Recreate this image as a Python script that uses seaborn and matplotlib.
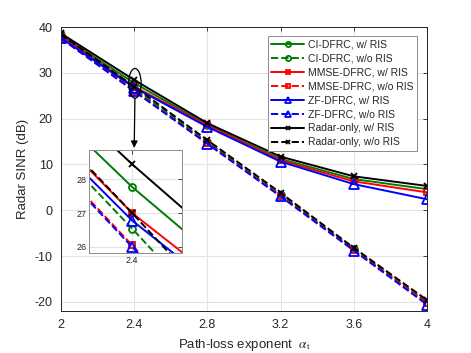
import matplotlib
matplotlib.use('Agg')
import matplotlib.pyplot as plt
from matplotlib.patches import Ellipse
import seaborn as sns
import pandas as pd

# data
alpha = [2.0, 2.4, 2.8, 3.2, 3.6, 4.0]
ci_w = [38.2, 27.77, 18.6, 11.2, 6.8, 4.6]
ci_wo = [37.9, 26.54, 14.9, 3.4, -8.5, -20.0]
mmse_w = [38.0, 27.0, 18.5, 10.9, 6.3, 3.9]
mmse_wo = [37.6, 26.05, 14.6, 3.2, -8.7, -20.2]
zf_w = [37.6, 26.78, 18.2, 10.6, 5.7, 2.4]
zf_wo = [37.5, 26.0, 14.5, 3.0, -8.8, -20.6]
radar_w = [38.6, 28.44, 19.0, 11.7, 7.4, 5.3]
radar_wo = [38.4, 27.0, 15.3, 3.8, -8.2, -19.6]

labels = ['CI-DFRC, w/ RIS', 'CI-DFRC, w/o RIS',
          'MMSE-DFRC, w/ RIS', 'MMSE-DFRC, w/o RIS',
          'ZF-DFRC, w/ RIS', 'ZF-DFRC, w/o RIS',
          'Radar-only, w/ RIS', 'Radar-only, w/o RIS']
series = [ci_w, ci_wo, mmse_w, mmse_wo, zf_w, zf_wo, radar_w, radar_wo]

rows = []
for lab, vals in zip(labels, series):
    for a, v in zip(alpha, vals):
        rows.append({'alpha': a, 'sinr': v, 'scheme': lab})
df = pd.DataFrame(rows)

green = '#007a00'
styles = {
    'CI-DFRC, w/ RIS': dict(color=green, marker='o', ms=5, dashed=False),
    'CI-DFRC, w/o RIS': dict(color=green, marker='o', ms=5, dashed=True),
    'MMSE-DFRC, w/ RIS': dict(color='red', marker='s', ms=4.5, dashed=False),
    'MMSE-DFRC, w/o RIS': dict(color='red', marker='s', ms=4.5, dashed=True),
    'ZF-DFRC, w/ RIS': dict(color='blue', marker='^', ms=6.5, dashed=False),
    'ZF-DFRC, w/o RIS': dict(color='blue', marker='^', ms=6.5, dashed=True),
    'Radar-only, w/ RIS': dict(color='black', marker='x', ms=4.5, dashed=False),
    'Radar-only, w/o RIS': dict(color='black', marker='x', ms=4.5, dashed=True),
}

sns.set_style('whitegrid')
plt.rcParams['font.family'] = ['Liberation Sans', 'DejaVu Sans']
plt.rcParams['mathtext.fontset'] = 'stix'
plt.rcParams['axes.unicode_minus'] = False

fig = plt.figure(figsize=(4.71, 3.53), dpi=100)
ax = fig.add_axes([0.1295, 0.119, 0.777, 0.8045])
axin = fig.add_axes([0.189, 0.283, 0.197, 0.292])


def draw(a, lw):
    for lab in labels:
        st = styles[lab]
        sub = df[df['scheme'] == lab]
        sns.lineplot(data=sub, x='alpha', y='sinr', ax=a, color=st['color'],
                     marker=st['marker'], markersize=st['ms'],
                     markerfacecolor='none', markeredgecolor=st['color'],
                     markeredgewidth=1.3, linewidth=lw, label=lab,
                     linestyle='--' if st['dashed'] else '-',
                     dashes=(3, 2.2) if st['dashed'] else '', legend=False)


draw(ax, 1.4)
draw(axin, 1.4)

gray = '#262626'
for a in (ax, axin):
    a.grid(True, color='#e3e3e3', linewidth=0.8)
    for s in a.spines.values():
        s.set_color(gray)
        s.set_linewidth(0.7)
    a.tick_params(direction='in', top=True, right=True, colors=gray,
                  length=3, width=0.6)
    a.set_xlabel('')
    a.set_ylabel('')

ax.set_xlim(2, 4)
ax.set_ylim(-22, 40)
ax.set_xticks([2, 2.4, 2.8, 3.2, 3.6, 4])
ax.set_xticklabels(['2', '2.4', '2.8', '3.2', '3.6', '4'])
ax.set_yticks([-20, -10, 0, 10, 20, 30, 40])
ax.set_yticklabels(['-20', '-10', '0', '10', '20', '30', '40'])
ax.tick_params(labelsize=9, pad=6)
ax.set_xlabel('Path-loss exponent  $\\alpha_{\\rm t}$', fontsize=9.5, color=gray)
ax.set_ylabel('Radar SINR (dB)', fontsize=9.5, color=gray)

axin.set_xlim(2.353, 2.454)
axin.set_ylim(25.82, 28.86)
axin.set_xticks([2.4])
axin.set_xticklabels(['2.4'])
axin.set_yticks([26, 27, 28])
axin.tick_params(labelsize=6.5, pad=2)
for s in axin.spines.values():
    s.set_color('#8c8c8c')

ax.add_patch(Ellipse((2.404, 27.7), 0.068, 6.5, fill=False,
                     edgecolor='black', linewidth=0.9, zorder=5))
ax.annotate('', xy=(2.4, 13.6), xytext=(2.404, 24.4),
            arrowprops=dict(arrowstyle='-|>', color='black', lw=0.9,
                            mutation_scale=10, shrinkA=0, shrinkB=0))

handles, labs = ax.get_legend_handles_labels()
leg = ax.legend(handles, labs, loc='upper right',
                bbox_to_anchor=(0.973, 0.969), borderaxespad=0,
                fontsize=7.5, handlelength=3.1, labelspacing=0.38,
                markerscale=0.75,
                frameon=True, fancybox=False, edgecolor='#8c8c8c',
                framealpha=1, borderpad=0.35, handletextpad=0.4)
leg.get_frame().set_linewidth(0.7)

fig.savefig('out.png', dpi=100)
